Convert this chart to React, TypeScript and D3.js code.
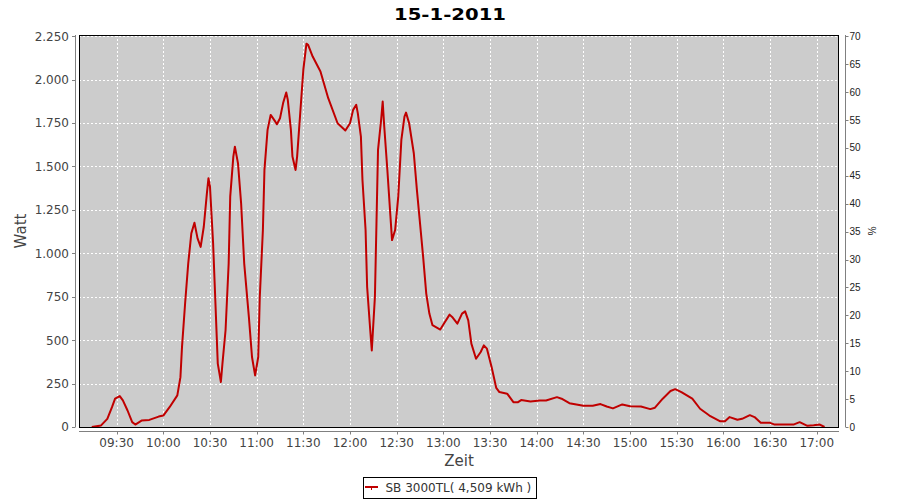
import React from 'react';
import * as d3 from 'd3';

const title = '15-1-2011';
const seriesName = 'SB 3000TL( 4,509 kWh )';
const yLabel = 'Watt';
const xLabel = 'Zeit';
const pctLabel = '%';

const times = [
  '09:14', '09:20', '09:24', '09:27', '09:29', '09:32', '09:34', '09:37', '09:40', '09:42',
  '09:46', '09:51', '09:57', '10:00', '10:04', '10:09', '10:11', '10:12', '10:14', '10:16',
  '10:18', '10:20', '10:22', '10:24', '10:26', '10:28', '10:29', '10:30', '10:32', '10:34',
  '10:35', '10:37', '10:38', '10:40', '10:42', '10:43', '10:45', '10:46', '10:48', '10:50',
  '10:52', '10:55', '10:57', '10:59', '11:01', '11:02', '11:04', '11:05', '11:07', '11:09',
  '11:12', '11:13', '11:15', '11:17', '11:19', '11:20', '11:22', '11:23', '11:25', '11:26',
  '11:28', '11:30', '11:32', '11:33', '11:36', '11:41', '11:46', '11:52', '11:57', '12:00',
  '12:02', '12:04', '12:05', '12:07', '12:08', '12:10', '12:11', '12:13', '12:14', '12:16',
  '12:17', '12:18', '12:20', '12:21', '12:22', '12:24', '12:26', '12:27', '12:29', '12:31',
  '12:33', '12:35', '12:36', '12:38', '12:41', '12:43', '12:45', '12:47', '12:49', '12:51',
  '12:53', '12:58', '13:01', '13:04', '13:06', '13:09', '13:12', '13:14', '13:16', '13:18',
  '13:21', '13:24', '13:26', '13:28', '13:31', '13:34', '13:36', '13:41', '13:45', '13:48',
  '13:50', '13:56', '14:02', '14:06', '14:13', '14:16', '14:21', '14:30', '14:36', '14:41',
  '14:45', '14:49', '14:55', '15:00', '15:07', '15:13', '15:16', '15:21', '15:26', '15:29',
  '15:33', '15:40', '15:45', '15:51', '15:58', '16:01', '16:04', '16:09', '16:12', '16:17',
  '16:20', '16:24', '16:30', '16:33', '16:45', '16:49', '16:54', '16:58', '17:02', '17:05',
];

const watts = [
  0, 9, 47, 114, 163, 178, 153, 95, 28, 14,
  37, 41, 60, 66, 114, 182, 287, 460, 711, 941,
  1115, 1176, 1086, 1037, 1153, 1345, 1432, 1383, 1057, 595,
  365, 259, 365, 557, 941, 1326, 1557, 1614, 1518, 1288,
  941, 633, 403, 297, 403, 749, 1134, 1480, 1711, 1797,
  1758, 1743, 1778, 1865, 1926, 1884, 1711, 1557, 1480, 1557,
  1807, 2057, 2207, 2201, 2133, 2047, 1893, 1749, 1707, 1749,
  1826, 1855, 1807, 1672, 1422, 1134, 807, 557, 441, 749,
  1172, 1595, 1768, 1874, 1730, 1480, 1210, 1076, 1134, 1326,
  1653, 1787, 1810, 1749, 1576, 1364, 1172, 980, 768, 653,
  586, 561, 605, 647, 630, 595, 653, 666, 614, 480,
  393, 432, 470, 451, 345, 225, 201, 192, 143, 143,
  155, 147, 153, 153, 172, 163, 137, 122, 122, 132,
  118, 107, 130, 120, 118, 103, 111, 163, 207, 218,
  201, 163, 105, 66, 33, 33, 57, 42, 47, 68,
  57, 24, 24, 14, 14, 28, 7, 10, 14, 0,
];

const xTickLabels = [
  '09:30', '10:00', '10:30', '11:00', '11:30', '12:00', '12:30', '13:00',
  '13:30', '14:00', '14:30', '15:00', '15:30', '16:00', '16:30', '17:00',
];
const yTicks = [0, 250, 500, 750, 1000, 1250, 1500, 1750, 2000, 2250];
const pctTicks = [0, 5, 10, 15, 20, 25, 30, 35, 40, 45, 50, 55, 60, 65, 70];

const toMin = (s: string) => {
  const [h, m] = s.split(':').map(Number);
  return h * 60 + m;
};

const fmtWatt = (v: number) => d3.format(',')(v).replace(/,/g, '.');

export default function App() {
  const W = 900;
  const H = 500;
  const left = 79;
  const right = 839;
  const top = 35;
  const bottom = 427;

  const x = d3.scaleLinear().domain([545.8, 1034.3]).range([left, right]);
  const y = d3.scaleLinear().domain([0, 2257]).range([bottom, top]);
  const yPct = d3.scaleLinear().domain([0, 70.22]).range([bottom, top]);

  const lineGen = d3
    .line<number>()
    .x((_, i) => x(toMin(times[i])))
    .y((d) => y(d));

  const px = (v: number) => Math.round(v) + 0.5;
  const font = 'DejaVu Sans, sans-serif';
  const axisGray = '#808080';
  const labelColor = '#444444';

  const leftAxisX = 75.5;
  const rightAxisX = 845.5;
  const bottomAxisY = 431.5;

  return (
    <svg
      width={W}
      height={H}
      style={{ position: 'absolute', left: 0, top: 0, background: '#fff' }}
      fontFamily={font}
    >
      <rect x={0} y={0} width={W} height={H} fill="#ffffff" />
      <text
        x={450}
        y={19.5}
        textAnchor="middle"
        fontSize={15.5}
        fontWeight="bold"
        fill="#000"
        textLength={112}
        lengthAdjust="spacingAndGlyphs"
      >
        {title}
      </text>

      {/* plot background */}
      <rect x={left} y={top} width={right - left} height={bottom - top} fill="#cccccc" />

      {/* grid */}
      {yTicks.map((t) => (
        <line
          key={'gy' + t}
          x1={left}
          x2={right}
          y1={px(y(t))}
          y2={px(y(t))}
          stroke="#ffffff"
          strokeWidth={1}
          strokeDasharray="2,2"
        />
      ))}
      {xTickLabels.map((t) => (
        <line
          key={'gx' + t}
          x1={px(x(toMin(t)))}
          x2={px(x(toMin(t)))}
          y1={top}
          y2={bottom}
          stroke="#ffffff"
          strokeWidth={1}
          strokeDasharray="2,2"
        />
      ))}

      {/* data line */}
      <path d={lineGen(watts) || ''} fill="none" stroke="#c00000" strokeWidth={2} strokeLinejoin="round" />

      {/* plot outline */}
      <rect x={left + 0.5} y={top + 0.5} width={right - left - 1} height={bottom - top} fill="none" stroke="#000" strokeWidth={1} />

      {/* left axis */}
      <line x1={leftAxisX} x2={leftAxisX} y1={top} y2={bottom} stroke={axisGray} />
      {yTicks.map((t) => (
        <g key={'ly' + t}>
          <line x1={72} x2={leftAxisX} y1={px(y(t))} y2={px(y(t))} stroke={axisGray} />
          <text x={69} y={y(t) + 4.4} textAnchor="end" fontSize={12} fill={labelColor}>
            {fmtWatt(t)}
          </text>
        </g>
      ))}
      <text
        transform={`translate(26,231) rotate(-90)`}
        textAnchor="middle"
        fontSize={15}
        fill={labelColor}
      >
        {yLabel}
      </text>

      {/* right axis */}
      <line x1={rightAxisX} x2={rightAxisX} y1={top} y2={bottom} stroke={axisGray} />
      {pctTicks.map((t) => (
        <g key={'ry' + t}>
          <line x1={rightAxisX} x2={848.5} y1={px(yPct(t))} y2={px(yPct(t))} stroke={axisGray} />
          <text x={849.5} y={yPct(t) + 3.6} textAnchor="start" fontSize={10} fontFamily="Liberation Sans, sans-serif" fill="#222">
            {t}
          </text>
        </g>
      ))}
      <text
        transform={`translate(868,231) rotate(90)`}
        textAnchor="middle"
        fontSize={10}
        fontFamily="Liberation Sans, sans-serif"
        fill="#222"
      >
        {pctLabel}
      </text>

      {/* bottom axis */}
      <line x1={left} x2={right} y1={bottomAxisY} y2={bottomAxisY} stroke={axisGray} />
      {xTickLabels.map((t) => (
        <g key={'bx' + t}>
          <line x1={px(x(toMin(t)))} x2={px(x(toMin(t)))} y1={bottomAxisY} y2={434.5} stroke={axisGray} />
          <text x={x(toMin(t))} y={446.7} textAnchor="middle" fontSize={12} fill={labelColor}>
            {t}
          </text>
        </g>
      ))}
      <text x={(left + right) / 2} y={465.5} textAnchor="middle" fontSize={15} fill={labelColor}>
        {xLabel}
      </text>

      {/* legend */}
      <rect x={363.5} y={477.5} width={173} height={21} fill="#fff" stroke="#000" />
      <line x1={365} x2={378} y1={487} y2={487} stroke="#c00000" strokeWidth={2} />
      <rect x={371} y={488} width={1} height={2} fill="#c00000" />
      <text x={385.5} y={492} fontSize={12} fill="#333">
        {seriesName}
      </text>
    </svg>
  );
}
